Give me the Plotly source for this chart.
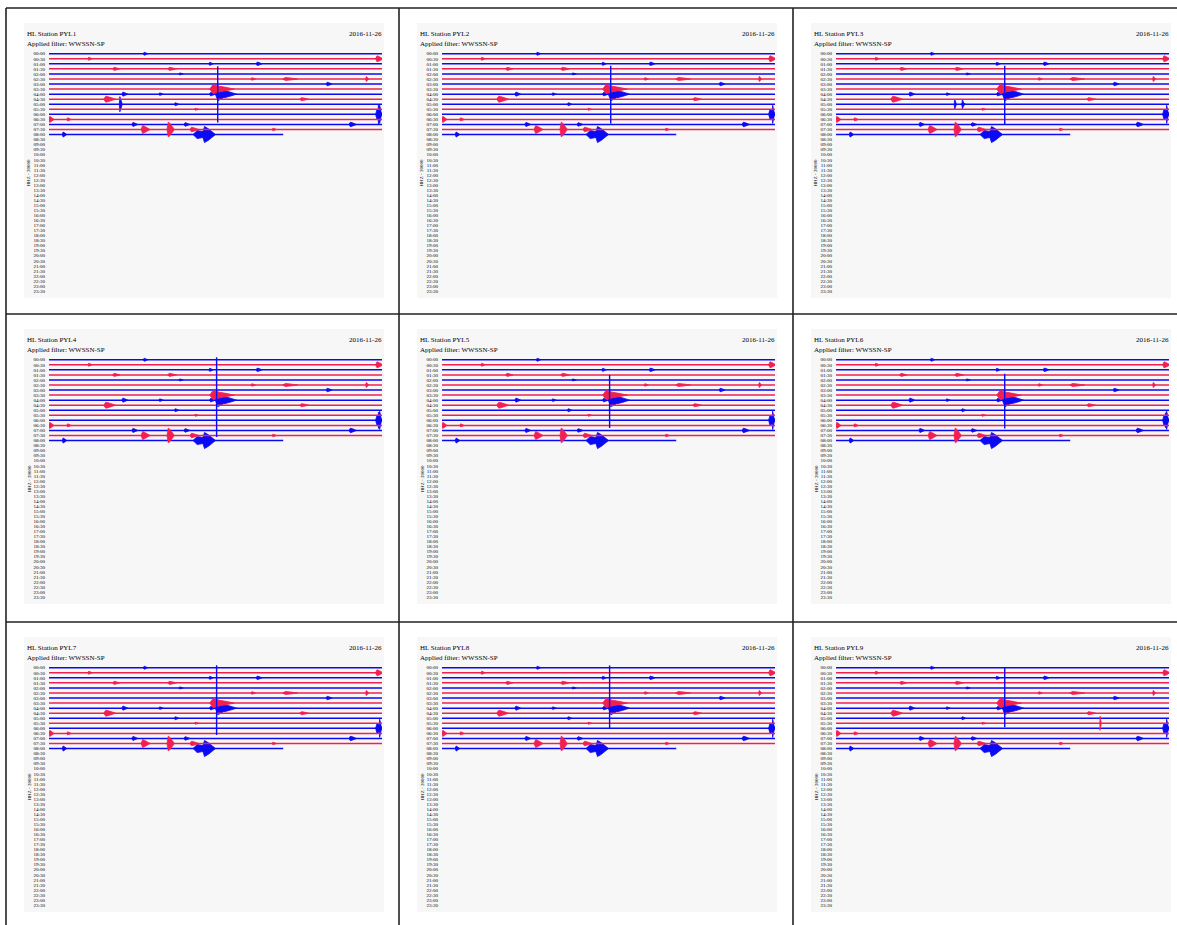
import plotly.graph_objects as go

# ---------------- data ----------------
STATIONS = ["PYL1", "PYL2", "PYL3", "PYL4", "PYL5", "PYL6", "PYL7", "PYL8", "PYL9"]
NETWORK = "HL Station"
DATE = "2016-11-26"
FILTER = "Applied filter: WWSSN-SP"
CHANNEL = "HHZ - 20000"

ROW_LABELS = ["00:00", "00:30", "01:00", "01:30", "02:00", "02:30", "03:00", "03:30",
              "04:00", "04:30", "05:00", "05:30", "06:00", "06:30", "07:00", "07:30",
              "08:00", "08:30", "09:00", "09:30", "10:00", "10:30", "11:00", "11:30",
              "12:00", "12:30", "13:00", "13:30", "14:00", "14:30", "15:00", "15:30",
              "16:00", "16:30", "17:00", "17:30", "18:00", "18:30", "19:00", "19:30",
              "20:00", "20:30", "21:00", "21:30", "22:00", "22:30", "23:00", "23:30"]

N_TRACE_ROWS = 17          # 00:00 .. 08:00 recorded
LAST_ROW_END_MIN = 21.1    # the 08:00 line stops here (minutes)

# common events: row index, minute in the row, half amplitude (rows), duration (min)
EV_ROW = [0, 1, 1, 2, 2, 3, 3, 4, 5, 5, 5, 6, 7, 7, 8, 8, 8, 8, 8,
          9, 9, 10, 11, 12, 12, 13, 13, 14, 14, 14, 15, 15, 15, 15, 16, 16, 16]
EV_MIN = [8.6, 3.6, 29.6, 14.5, 18.8, 5.9, 10.9, 11.8, 18.3, 21.4, 28.6, 25.1, 14.9, 15.6,
          6.7, 10.0, 14.6, 15.3, 15.9, 5.2, 22.8, 11.4, 13.2, 29.6, 29.8, 0.1, 1.7,
          7.6, 12.3, 27.2, 8.5, 10.8, 12.9, 20.2, 1.3, 13.5, 14.1]
EV_AMP = [0.3, 0.3, 0.6, 0.3, 0.35, 0.3, 0.3, 0.2, 0.25, 0.3, 0.5, 0.35, 0.9, 0.5,
          0.4, 0.25, 0.35, 1.3, 0.7, 0.6, 0.3, 0.3, 0.2, 1.0, 1.8, 0.6, 0.3,
          0.4, 0.35, 0.45, 0.8, 1.5, 0.45, 0.25, 0.5, 0.8, 1.6]
EV_DUR = [0.3, 0.3, 0.5, 0.3, 0.4, 0.5, 0.6, 0.3, 0.3, 1.0, 0.2, 0.4, 1.2, 1.1,
          0.4, 0.3, 0.4, 0.9, 1.0, 0.8, 0.6, 0.3, 0.3, 0.5, 0.15, 0.35, 0.3,
          0.4, 0.4, 0.5, 0.6, 0.5, 0.6, 0.3, 0.3, 1.5, 0.9]

# the large 04:00 arrival seen as a vertical stroke in every panel
SPIKE_ROW = 8
SPIKE_MIN = [15.2, 15.2, 15.2, 15.1, 15.1, 15.2, 15.1, 15.1, 15.2]
SPIKE_UP = [5.5, 5.6, 5.6, 8.9, 5.0, 5.2, 9.1, 8.5, 8.0]
SPIKE_DOWN = [5.6, 5.8, 6.0, 7.3, 5.5, 5.6, 5.3, 4.0, 3.8]

# station-specific extra events: panel index, row, minute, half amplitude, duration
EX_PANEL = [0, 0, 2, 2, 3, 8, 5]
EX_ROW = [10, 12, 10, 10, 12, 11, 12]
EX_MIN = [6.4, 29.7, 10.7, 11.4, 29.7, 23.8, 29.7]
EX_AMP = [1.5, 1.9, 1.0, 0.9, 1.6, 1.4, 1.5]
EX_DUR = [0.2, 0.2, 0.15, 0.15, 0.2, 0.1, 0.2]

BLUE = "#0a0af5"
RED = "#f22050"

# ---------------- layout helpers ----------------
W, H = 1177, 925
COL_X = [6, 399, 793]
ROW_Y = [8, 314, 622]


def px(x):
    return x / W


def py(y):
    return 1 - y / H


fig = go.Figure()
shapes = []
annotations = []
layout_axes = {}

for k, st in enumerate(STATIONS):
    c, r = k % 3, k // 3
    ox, oy = COL_X[c], ROW_Y[r]
    xa = "xaxis" if k == 0 else f"xaxis{k + 1}"
    ya = "yaxis" if k == 0 else f"yaxis{k + 1}"
    xr = "x" if k == 0 else f"x{k + 1}"
    yr = "y" if k == 0 else f"y{k + 1}"

    layout_axes[xa] = dict(domain=[px(ox + 43), px(ox + 376)], range=[0, 30],
                           visible=False, anchor=yr, fixedrange=True)
    layout_axes[ya] = dict(domain=[py(oy + 285.6), py(oy + 43.2)], range=[47.5, -0.5],
                           anchor=xr, tickmode="array", tickvals=list(range(len(ROW_LABELS))),
                           ticktext=ROW_LABELS, showgrid=False, zeroline=False,
                           showline=False, ticks="", ticklabelstandoff=3,
                           tickfont=dict(family="Liberation Serif", size=5, color="#000"),
                           fixedrange=True)

    # panel background
    shapes.append(dict(type="rect", xref="paper", yref="paper", layer="below",
                       x0=px(ox + 18), x1=px(ox + 378), y0=py(oy + 290), y1=py(oy + 15),
                       fillcolor="#f7f7f7", line=dict(width=0)))

    # gather events for this panel
    evs = list(zip(EV_ROW, EV_MIN, EV_AMP, EV_DUR))
    for p, rr, mm, aa, dd in zip(EX_PANEL, EX_ROW, EX_MIN, EX_AMP, EX_DUR):
        if p == k:
            evs.append((rr, mm, aa, dd))

    for color, parity in ((BLUE, 0), (RED, 1)):
        bx, by = [], []
        for row in range(N_TRACE_ROWS):
            if row % 2 != parity:
                continue
            end = LAST_ROW_END_MIN if row == N_TRACE_ROWS - 1 else 30
            bx += [0, end, None]
            by += [row, row, None]
        fig.add_trace(go.Scatter(x=bx, y=by, mode="lines", xaxis=xr, yaxis=yr,
                                 line=dict(color=color, width=1.5), hoverinfo="skip",
                                 showlegend=False))
        fx, fy = [], []
        for row, m, a, d in evs:
            if row % 2 != parity:
                continue
            # spindle-shaped wave packet: quick onset, decaying coda
            fx += [m - 0.35 * d, m - 0.1 * d, m + 0.3 * d, m + d,
                   m + 0.3 * d, m - 0.1 * d, m - 0.35 * d, None]
            fy += [row, row - a, row - 0.7 * a, row,
                   row + 0.7 * a, row + a, row, None]
        fig.add_trace(go.Scatter(x=fx, y=fy, mode="lines", fill="toself", fillcolor=color,
                                 xaxis=xr, yaxis=yr, line=dict(color=color, width=0.8),
                                 hoverinfo="skip", showlegend=False))

    # the main vertical stroke
    sm = SPIKE_MIN[k]
    fig.add_trace(go.Scatter(x=[sm, sm], y=[SPIKE_ROW - SPIKE_UP[k], SPIKE_ROW + SPIKE_DOWN[k]],
                             mode="lines", xaxis=xr, yaxis=yr,
                             line=dict(color=BLUE, width=1.4), hoverinfo="skip",
                             showlegend=False))

    # texts
    font_t = dict(family="Liberation Serif", size=7, color="#000")
    annotations.append(dict(text=f"{NETWORK} {st}", xref="paper", yref="paper",
                            x=px(ox + 19), y=py(oy + 25.7), xanchor="left", yanchor="middle",
                            showarrow=False, font=font_t))
    annotations.append(dict(text=FILTER, xref="paper", yref="paper",
                            x=px(ox + 19), y=py(oy + 35.7), xanchor="left", yanchor="middle",
                            showarrow=False, font=font_t))
    annotations.append(dict(text=DATE, xref="paper", yref="paper",
                            x=px(ox + 377.5), y=py(oy + 25.7), xanchor="right", yanchor="middle",
                            showarrow=False, font=font_t))
    annotations.append(dict(text=CHANNEL, xref="paper", yref="paper", textangle=-90,
                            x=px(ox + 22.5), y=py(oy + 165), xanchor="center", yanchor="middle",
                            showarrow=False,
                            font=dict(family="Liberation Serif", size=5, color="#000")))

# cell borders
BORDER = dict(color="#222", width=1.6)
for x in COL_X:
    shapes.append(dict(type="line", xref="paper", yref="paper", x0=px(x), x1=px(x),
                       y0=py(ROW_Y[0]), y1=0, line=BORDER))
for y in ROW_Y:
    shapes.append(dict(type="line", xref="paper", yref="paper", x0=px(COL_X[0]), x1=1,
                       y0=py(y), y1=py(y), line=BORDER))

fig.update_layout(width=W, height=H, margin=dict(l=0, r=0, t=0, b=0),
                  paper_bgcolor="white", plot_bgcolor="rgba(0,0,0,0)",
                  shapes=shapes, annotations=annotations, showlegend=False,
                  **layout_axes)

fig.write_html("out.html", config={"displayModeBar": False},
               post_script="document.body.style.margin='0';")
